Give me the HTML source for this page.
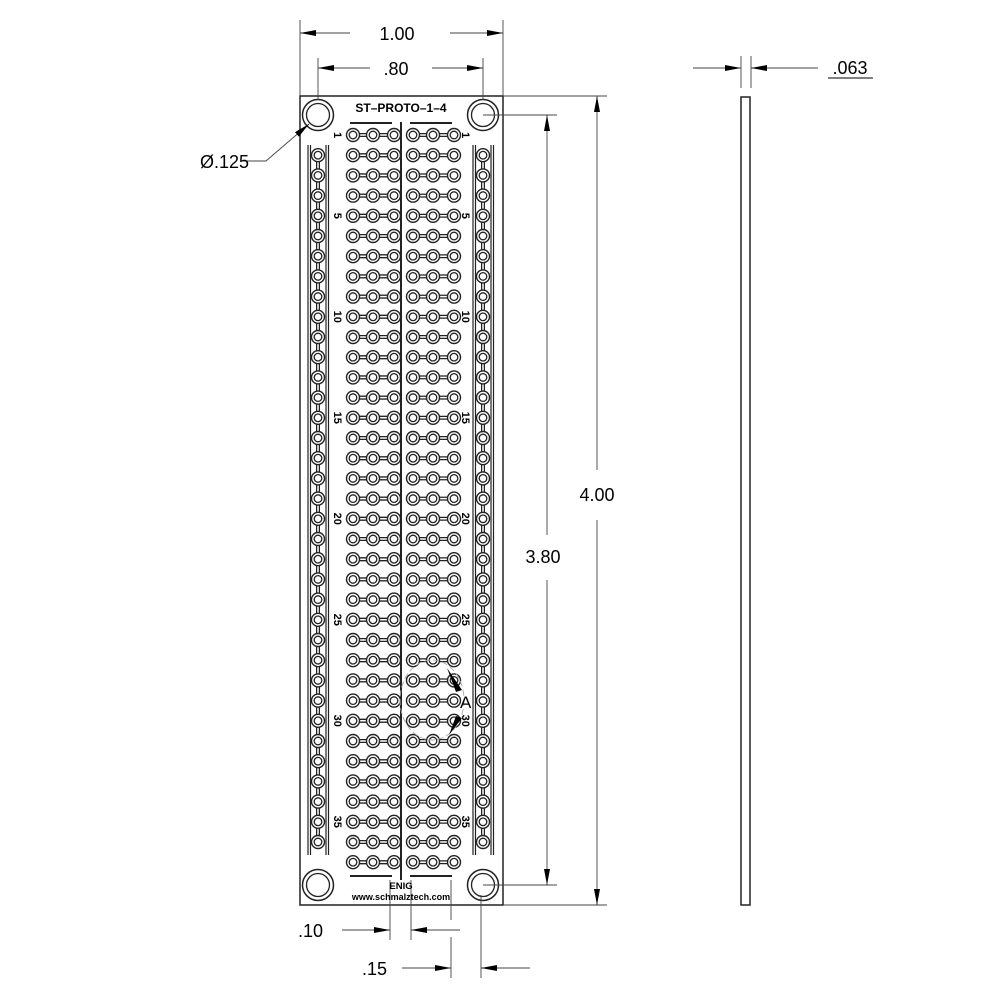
<!DOCTYPE html>
<html><head><meta charset="utf-8"><style>
html,body{margin:0;padding:0;background:#fff;width:1000px;height:1000px;overflow:hidden}
svg{display:block}
text{font-family:"Liberation Sans",sans-serif}
</style></head><body>
<svg id="s" width="1000" height="1000" viewBox="0 0 1000 1000" xmlns="http://www.w3.org/2000/svg">
<defs>
<marker id="ar" markerWidth="16" markerHeight="6" refX="16" refY="3" orient="auto" markerUnits="userSpaceOnUse"><path d="M0,0 L16,3 L0,6 Z" fill="#000"/></marker>
</defs>
<g fill="none" stroke="#222" stroke-width="1">
<rect x="300" y="96" width="203" height="809" stroke-width="1.5"/>
<rect x="741" y="97" width="9" height="808" stroke-width="1.5"/>
</g>
<g id="g" stroke="#222" fill="none"></g>
<g stroke="#444" stroke-width="0.9" fill="none">
<line x1="300" y1="20" x2="300" y2="96"/><line x1="503" y1="20" x2="503" y2="96"/>
<line x1="350" y1="33" x2="300" y2="33" marker-end="url(#ar)"/><line x1="450" y1="33" x2="503" y2="33" marker-end="url(#ar)"/>
<line x1="318" y1="58" x2="318" y2="100"/><line x1="483" y1="58" x2="483" y2="100"/>
<line x1="370" y1="68" x2="318" y2="68" marker-end="url(#ar)"/><line x1="432" y1="68" x2="483" y2="68" marker-end="url(#ar)"/>
<line x1="503" y1="96" x2="607" y2="96"/><line x1="503" y1="905" x2="607" y2="905"/>
<line x1="597" y1="470" x2="597" y2="96" marker-end="url(#ar)"/><line x1="597" y1="520" x2="597" y2="905" marker-end="url(#ar)"/>
<line x1="483" y1="115" x2="557" y2="115"/><line x1="483" y1="885" x2="557" y2="885"/>
<line x1="547" y1="535" x2="547" y2="115" marker-end="url(#ar)"/><line x1="547" y1="580" x2="547" y2="885" marker-end="url(#ar)"/>
<line x1="741" y1="56" x2="741" y2="88"/><line x1="751" y1="56" x2="751" y2="88"/>
<line x1="693" y1="68" x2="741" y2="68" marker-end="url(#ar)"/><line x1="818" y1="68" x2="751" y2="68" marker-end="url(#ar)"/>
<line x1="828" y1="78" x2="873" y2="78" stroke="#000" stroke-width="1"/>
<line x1="390" y1="880" x2="390" y2="940"/><line x1="411" y1="880" x2="411" y2="940"/>
<line x1="342" y1="930" x2="390" y2="930" marker-end="url(#ar)"/><line x1="460" y1="930" x2="411" y2="930" marker-end="url(#ar)"/>
<line x1="451" y1="880" x2="451" y2="920"/><line x1="451" y1="937" x2="451" y2="978"/><line x1="481" y1="895" x2="481" y2="978"/>
<line x1="402" y1="968" x2="451" y2="968" marker-end="url(#ar)"/><line x1="530" y1="968" x2="481" y2="968" marker-end="url(#ar)"/>
<polyline points="242,161 266,161 309,124" marker-end="url(#ar)"/>
<ellipse cx="432" cy="700" rx="32" ry="40" stroke-dasharray="6,3" stroke="#aaa"/>
</g>
<g fill="#000">
<text x="397" y="40" font-size="18" text-anchor="middle">1.00</text>
<text x="396" y="75" font-size="18" text-anchor="middle">.80</text>
<text x="597" y="501" font-size="18" text-anchor="middle">4.00</text>
<text x="543" y="563" font-size="18" text-anchor="middle">3.80</text>
<text x="850" y="74" font-size="18" text-anchor="middle">.063</text>
<text x="200" y="168" font-size="18">Ø.125</text>
<text x="298" y="937" font-size="18">.10</text>
<text x="362" y="975" font-size="18">.15</text>
<text x="460" y="708" font-size="17">A</text>
<text x="401" y="112" font-size="12" font-weight="bold" text-anchor="middle">ST–PROTO–1–4</text>
<text x="401" y="889" font-size="9.5" font-weight="bold" text-anchor="middle">ENIG</text>
<text x="401" y="900" font-size="9" font-weight="bold" text-anchor="middle">www.schmalztech.com</text>
</g>
</svg>
<script>
var g=document.getElementById('g'),h='';
function c(x,y,r,w){h+='<circle cx="'+x+'" cy="'+y+'" r="'+r+'" stroke-width="'+(w||1)+'"/>';}
function l(a,b,cc,d,w){h+='<line x1="'+a+'" y1="'+b+'" x2="'+cc+'" y2="'+d+'" stroke-width="'+(w||1)+'"/>';}
function hole(x,y){h+='<circle cx="'+x+'" cy="'+y+'" r="6.5" fill="#fff" stroke-width="1.4"/><circle cx="'+x+'" cy="'+y+'" r="3.8" fill="#fff" stroke-width="1.3"/>';}
[[318,115],[483,115],[318,885],[483,885]].forEach(function(p){c(p[0],p[1],15.5,1.5);c(p[0],p[1],11.5,1.3);});
var cols=[353,373,394,413,433,454];
for(var i=0;i<37;i++){var y=135+i*20.2;
 l(353,y,394,y,4);l(353,y,394,y,0);
 h+='<line x1="353" y1="'+y+'" x2="394" y2="'+y+'" stroke="#222" stroke-width="4"/><line x1="353" y1="'+y+'" x2="394" y2="'+y+'" stroke="#fff" stroke-width="1.5"/>';
 h+='<line x1="413" y1="'+y+'" x2="454" y2="'+y+'" stroke="#222" stroke-width="4"/><line x1="413" y1="'+y+'" x2="454" y2="'+y+'" stroke="#fff" stroke-width="1.5"/>';
 cols.forEach(function(x){hole(x,y);});
}
[318,483].forEach(function(x){h+='<line x1="'+x+'" y1="155" x2="'+x+'" y2="842" stroke="#222" stroke-width="4"/><line x1="'+x+'" y1="155" x2="'+x+'" y2="842" stroke="#fff" stroke-width="1.5"/>';});
for(var i=1;i<36;i++){var y=135+i*20.2;hole(318,y);hole(483,y);}
[308,310.5,326,328.5,473,475.5,491,493.5].forEach(function(x){l(x,145,x,855,1.2);});
l(401,122,401,880,2);
l(350,123,392,123,2);l(410,123,452,123,2);l(350,876,392,876,2);l(410,876,452,876,2);
g.innerHTML=h;
var t='';[1,5,10,15,20,25,30,35].forEach(function(n){var y=135+(n-1)*20.2;
 [[337,90],[465,90]].forEach(function(p){t+='<text x="'+p[0]+'" y="'+y+'" font-size="11" font-weight="bold" text-anchor="middle" dominant-baseline="middle" transform="rotate('+p[1]+' '+p[0]+' '+y+')" fill="#000">'+n+'</text>';});});
t+='<path d="M447,668 L462,690 L456,692 Z" fill="#000"/><path d="M449,735 L462,718 L456,716 Z" fill="#000"/>';
document.getElementById('s').insertAdjacentHTML('beforeend',t);
</script>
</body></html>
